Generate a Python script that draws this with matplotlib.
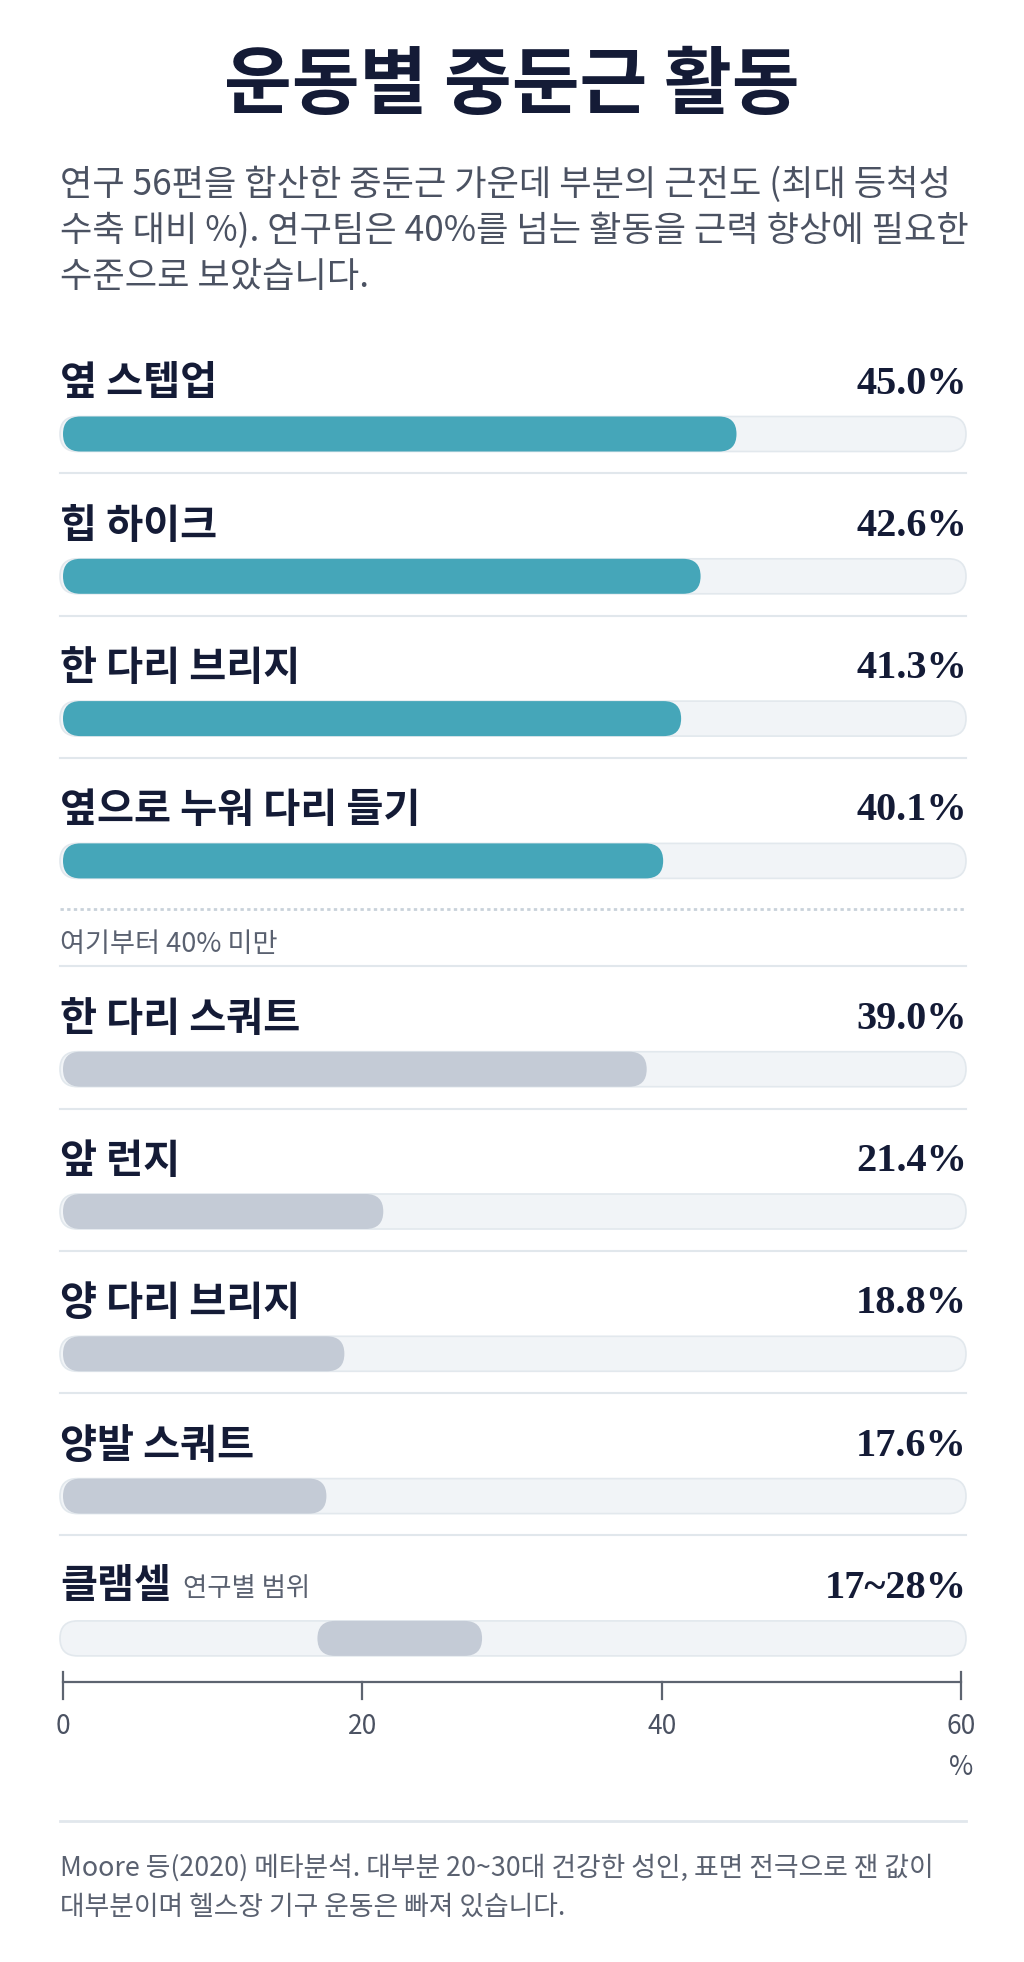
import matplotlib
matplotlib.use("Agg")
import matplotlib.pyplot as plt
from matplotlib.patches import FancyBboxPatch

plt.rcParams['font.family'] = ['Noto Sans CJK KR', 'DejaVu Sans']

# ---- data ----
title = "운동별 중둔근 활동"
subtitle = ["연구 56편을 합산한 중둔근 가운데 부분의 근전도 (최대 등척성",
            "수축 대비 %). 연구팀은 40%를 넘는 활동을 근력 향상에 필요한",
            "수준으로 보았습니다."]
exercises = ["옆 스텝업", "힙 하이크", "한 다리 브리지", "옆으로 누워 다리 들기",
             "한 다리 스쿼트", "앞 런지", "양 다리 브리지", "양발 스쿼트"]
activation = [45.0, 42.6, 41.3, 40.1, 39.0, 21.4, 18.8, 17.6]
range_name = "클램셀"
range_note = "연구별 범위"
range_low, range_high = 17, 28
threshold = 40
threshold_note = "여기부터 40% 미만"
ticks = [0, 20, 40, 60]
unit = "%"
footer = ["Moore 등(2020) 메타분석. 대부분 20~30대 건강한 성인, 표면 전극으로 잰 값이",
          "대부분이며 헬스장 기구 운동은 빠져 있습니다."]

# ---- style ----
NAVY = "#141b36"
GREY_TXT = "#4b5262"
TEAL = "#45a6b9"
GREY_BAR = "#c4cbd6"
TRACK = "#f1f4f7"
TRACK_EDGE = "#e2e8ed"
SEP = "#e1e7ec"
SERIF = ['Liberation Serif', 'DejaVu Serif']

W, H = 1024, 1962
X0_PX, X1_PX, XMAX = 63, 961, 60
px = (X1_PX - X0_PX) / XMAX          # pixels per data unit
BAR_H = 35
PITCH = 142.3
GAP = 66
FIRST_BAR = 434

fig = plt.figure(figsize=(W / 100, H / 100), dpi=100, facecolor="white")
ax = fig.add_axes([0, 0, 1, 1])
ax.set_xlim(-X0_PX / px, (W - X0_PX) / px)
ax.set_ylim(H, 0)
ax.axis('off')

x_left = (60 - X0_PX) / px
x_right = (967 - X0_PX) / px
x_track0 = (60 - X0_PX) / px
x_track1 = (966 - X0_PX) / px


def pill(x, y, w, color, edge='none', lw=0, z=2):
    r = BAR_H / 2 / px
    p = FancyBboxPatch((x, y - BAR_H / 2), w, BAR_H,
                       boxstyle=f"round,pad=0,rounding_size={r}",
                       mutation_aspect=px, facecolor=color, edgecolor=edge,
                       linewidth=lw, zorder=z)
    ax.add_patch(p)


def row_y(i):
    return FIRST_BAR + i * PITCH + (GAP if i >= 4 else 0)


# title and subtitle
fig.text(0.5, 1 - 87 / H, title, ha='center', va='center', fontsize=53,
         fontweight='bold', color=NAVY)
for k, line in enumerate(subtitle):
    ax.text(x_left, 185 + k * 46, line, ha='left', va='center', fontsize=25.3,
            color=GREY_TXT)

# rows
for i, (name, v) in enumerate(zip(exercises, activation)):
    y = row_y(i)
    if i > 0:
        ax.plot([x_track0, x_track1], [y - 103, y - 103], color=SEP, lw=1.5, zorder=1)
    ax.text(x_left, y - 50, name, ha='left', va='center', fontsize=29,
            fontweight='bold', color=NAVY)
    ax.text(x_right, y - 50, f"{v:.1f}%", ha='right', va='center', fontsize=29,
            fontweight='bold', color=NAVY, family=SERIF)
    pill(x_track0, y, x_track1 - x_track0, TRACK, TRACK_EDGE, 1.2, z=1)
    pill(0, y, v, TEAL if v > threshold else GREY_BAR)
    if i == 3:
        ax.plot([x_track0, x_track1], [y + 48, y + 48], color="#c9d2da", lw=2,
                linestyle=(0, (1.2, 1.2)), zorder=1)
        ax.text(x_left, y + 84, threshold_note, ha='left', va='center',
                fontsize=19.6, color="#5a6170")

# range row
y = row_y(len(exercises))
ax.plot([x_track0, x_track1], [y - 103, y - 103], color=SEP, lw=1.5, zorder=1)
ax.text(x_left, y - 52, range_name, ha='left', va='center', fontsize=29,
        fontweight='bold', color=NAVY)
ax.text((183 - X0_PX) / px, y - 50, range_note, ha='left', va='center',
        fontsize=19, color="#5a6170")
ax.text(x_right, y - 50, f"{range_low}~{range_high}%", ha='right', va='center',
        fontsize=29, fontweight='bold', color=NAVY, family=SERIF)
pill(x_track0, y, x_track1 - x_track0, TRACK, TRACK_EDGE, 1.2, z=1)
pill(range_low, y, range_high - range_low, GREY_BAR)

# axis
ya = y + 44
ax.plot([ticks[0], ticks[-1]], [ya, ya], color="#5d6470", lw=1.6, zorder=3)
for tv in ticks:
    top = ya - 10 if tv in (ticks[0], ticks[-1]) else ya
    ax.plot([tv, tv], [top, ya + 17], color="#5d6470", lw=1.6, zorder=3)
    ax.text(tv, ya + 44, str(tv), ha='center', va='center', fontsize=19,
            color=GREY_TXT)
ax.text(ticks[-1], ya + 85, unit, ha='center', va='center', fontsize=19,
        color=GREY_TXT)

# footer
ax.plot([x_track0, x_track1], [1821, 1821], color=SEP, lw=2, zorder=1)
for k, line in enumerate(footer):
    ax.text(x_left, 1868 + k * 39, line, ha='left', va='center', fontsize=19.3,
            color="#5a6170")

fig.savefig("out.png", dpi=100, facecolor="white")
